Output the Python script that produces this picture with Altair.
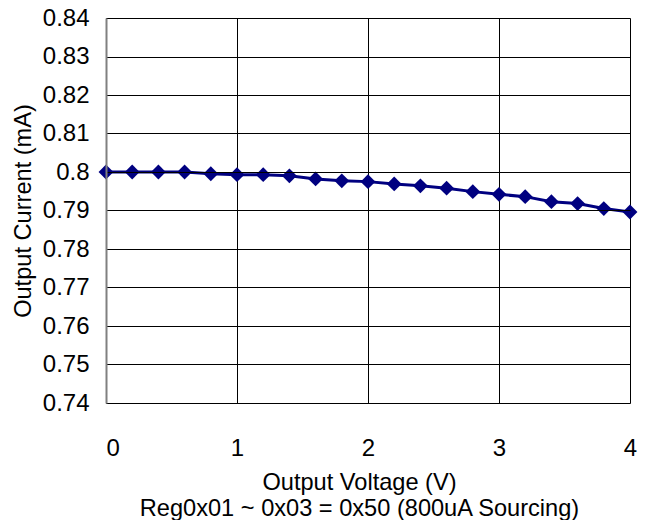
import altair as alt
import pandas as pd

voltage = [0.0, 0.2, 0.4, 0.6, 0.8, 1.0, 1.2, 1.4, 1.6, 1.8, 2.0,
           2.2, 2.4, 2.6, 2.8, 3.0, 3.2, 3.4, 3.6, 3.8, 4.0]
current = [0.8000, 0.8000, 0.8000, 0.8000, 0.79955, 0.7993, 0.7993, 0.7990,
           0.7982, 0.7977, 0.7975, 0.7969, 0.7964, 0.7958, 0.7949, 0.7942,
           0.7936, 0.7923, 0.7918, 0.7905, 0.7896]

y_ticks = [0.74, 0.75, 0.76, 0.77, 0.78, 0.79, 0.80, 0.81, 0.82, 0.83, 0.84]
x_ticks = [0, 1, 2, 3, 4]

df = pd.DataFrame({"v": voltage, "i": current})

FONT = "Liberation Sans"

x_enc = alt.X("v:Q",
              scale=alt.Scale(domain=[0, 4], nice=False, zero=False),
              axis=alt.Axis(values=x_ticks, format="d", ticks=False,
                            domain=False, grid=True, gridColor="#000000",
                            gridWidth=1, labelPadding=33, labelFontSize=24,
                            labelFont=FONT, labelColor="#000000",
                            labelFlush=False, labelOverlap=False,
                            labelAlign={"condition": {"test": "datum.value == 0", "value": "left"},
                                        "value": "center"},
                            title=["Output Voltage (V)",
                                   "Reg0x01 ~ 0x03 = 0x50 (800uA Sourcing)"],
                            titleFont=FONT, titleFontSize=23.6,
                            titleFontWeight="normal", titleColor="#000000",
                            titlePadding=10, titleLineHeight=26,
                            titleX=253))
y_enc = alt.Y("i:Q",
              scale=alt.Scale(domain=[0.74, 0.84], nice=False, zero=False),
              axis=alt.Axis(values=y_ticks, ticks=False, domain=True,
                            domainColor="#808080", domainWidth=2,
                            grid=True, gridColor="#000000", gridWidth=1,
                            labelPadding=17, labelFontSize=24,
                            labelFont=FONT, labelColor="#000000",
                            labelOverlap=False, labelFlush=False,
                            labelExpr="format(datum.value, '.2~f')",
                            title="Output Current (mA)",
                            titleFont=FONT, titleFontSize=23.6,
                            titleFontWeight="normal", titleColor="#000000",
                            titlePadding=7, zindex=1))

base = alt.Chart(df).encode(x=x_enc, y=y_enc)
line = base.mark_line(color="#000080", strokeWidth=3)
pts = base.mark_point(shape="diamond", filled=True, color="#000080",
                      size=220, opacity=1)

chart = (line + pts).properties(
    width=524, height=385,
    autosize=alt.AutoSizeParams(type="none"),
    padding={"left": 98, "top": 10, "right": 13, "bottom": 117},
).configure_view(stroke=None).configure(background="#ffffff")

chart.save("out.html", embed_options={"renderer": "svg", "actions": False})
